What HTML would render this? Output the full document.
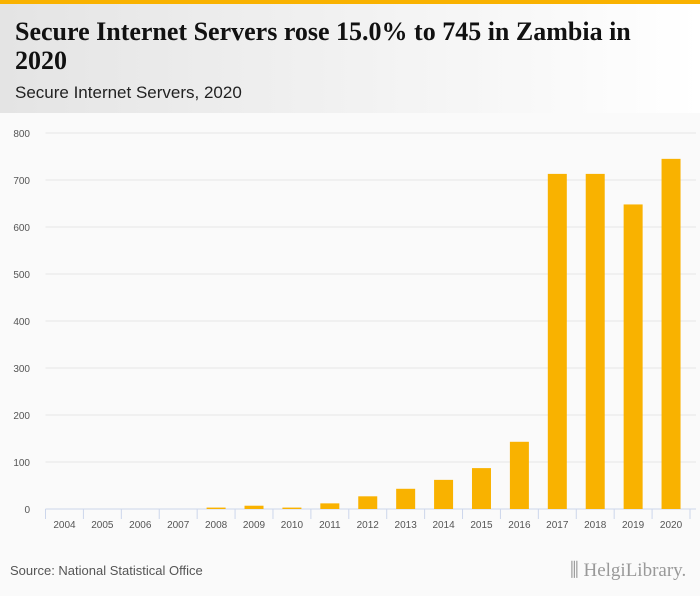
<!DOCTYPE html>
<html><head><meta charset="utf-8"><style>
body{margin:0;width:700px;height:596px;background:#fafafa;font-family:"Liberation Sans",sans-serif;overflow:hidden;position:relative}
#hdr{position:absolute;left:0;top:0;width:700px;height:113px;background:linear-gradient(90deg,#e4e4e4 0%,#f3f3f3 55%,#fff 100%);border-top:4px solid #f9b200;box-sizing:border-box}
#title{position:absolute;left:15px;top:13px;font-family:"Liberation Serif",serif;font-weight:bold;font-size:26px;line-height:29px;color:#111;width:665px}
#sub{position:absolute;left:15px;top:79px;font-size:17px;color:#222}
#src{position:absolute;left:10px;top:563px;font-size:13px;color:#555}
#logo{position:absolute;left:570px;top:560px;font-size:19px;color:#999;font-family:"Liberation Serif",serif}
</style></head><body>
<div id="hdr">
<div id="title">Secure Internet Servers rose 15.0% to 745 in Zambia in 2020</div>
<div id="sub">Secure Internet Servers, 2020</div>
</div>
<svg id="chart" width="700" height="596" style="position:absolute;left:0;top:0"></svg>
<div id="src">Source: National Statistical Office</div>
<div id="logo">⫼ HelgiLibrary.</div>
<script>
const categories=["2004","2005","2006","2007","2008","2009","2010","2011","2012","2013","2014","2015","2016","2017","2018","2019","2020"];
const values=[0,0,0,0,3,7,3,12,27,43,62,87,143,713,713,648,745];
const yTicks=[0,100,200,300,400,500,600,700,800];
const svg=document.getElementById('chart');
const NS='http://www.w3.org/2000/svg';
const x0=45.5,x1=690,y0=509,y1=133,yMax=800;
const bw=(x1-x0)/categories.length;
const ys=v=>y0-(v/yMax)*(y0-y1);
const xs=i=>x0+bw*i;
function mk(t,a){const e=document.createElementNS(NS,t);for(const k in a)e.setAttribute(k,a[k]);svg.appendChild(e);return e;}
yTicks.forEach(t=>{
 const g=mk('line',{x1:x0,x2:696,y1:ys(t),y2:ys(t),stroke:t===0?'#ccd6eb':'#e6e6e6','stroke-width':1});
 
 
 const l=mk('text',{x:30,y:ys(t)+4,'text-anchor':'end','font-size':10,fill:'#555','font-family':'Liberation Sans'});
 l.textContent=t;
 
 
});
categories.forEach((c,i)=>{
 const tk=mk('line',{x1:xs(i),x2:xs(i),y1:y0,y2:y0+10,stroke:'#ccd6eb'});
 
 
 const h=y0-ys(values[i]);
 const b=mk('rect',{x:xs(i)+bw/2-9.5,y:ys(values[i]),width:19,height:h,fill:'#f9b200'});
 
 
 const l=mk('text',{x:xs(i)+bw/2,y:y0+19,'text-anchor':'middle','font-size':10,fill:'#555','font-family':'Liberation Sans'});
 l.textContent=c;
 
 
});
const lt=mk('line',{x1:x1,x2:x1,y1:y0,y2:y0+10,stroke:'#ccd6eb'});


</script>
</body></html>
